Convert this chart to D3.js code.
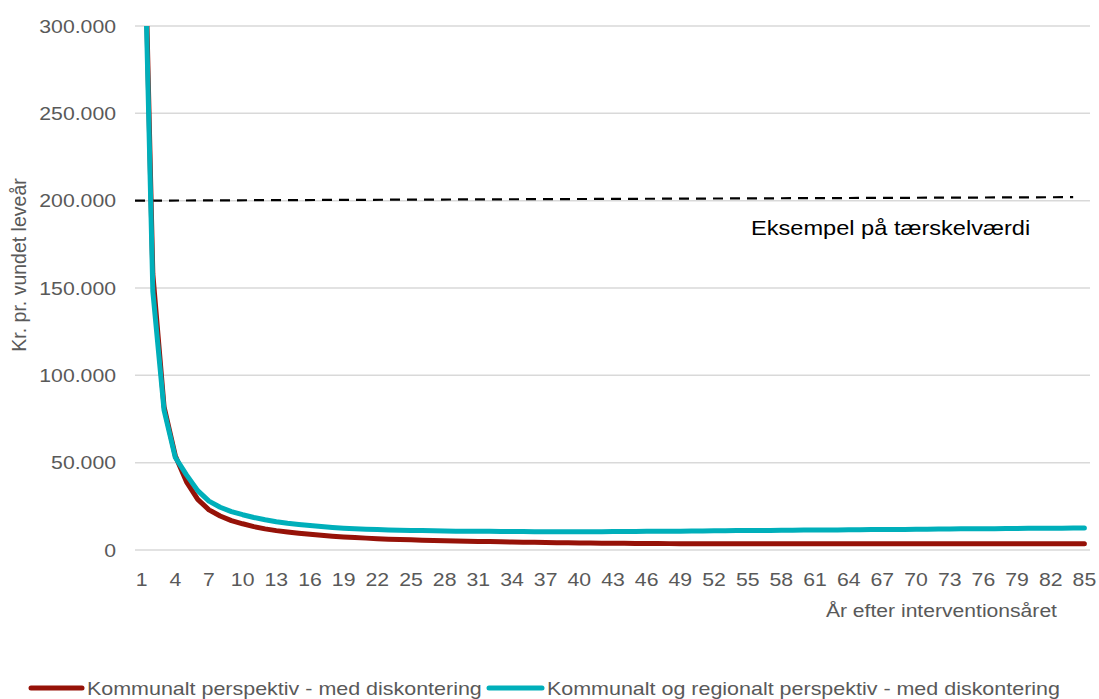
<!DOCTYPE html>
<html>
<head>
<meta charset="utf-8">
<script src="https://cdn.jsdelivr.net/npm/d3@7"></script>
<style>
  html, body { margin: 0; padding: 0; background: #fff; }
  svg { display: block; }
  text { font-family: "Liberation Sans", Arial, sans-serif; fill: #595959; }
</style>
</head>
<body>
<svg id="chart" width="1099" height="699"></svg>
<script>
// ---- data ----
const years = d3.range(1, 86); // År efter interventionsåret: 1..85

const kommunal = [
  430000, 158000, 82000, 54000, 39000, 29000, 23000, 19500, 16800, 15000,
  13400, 12100, 11100, 10300, 9600, 9000, 8400, 7900, 7500, 7100,
  6800, 6500, 6200, 6000, 5800, 5600, 5400, 5300, 5100, 5000,
  4900, 4800, 4700, 4600, 4500, 4400, 4300, 4200, 4100, 4000,
  3950, 3900, 3850, 3800, 3750, 3700, 3700, 3650, 3650, 3600,
  3600, 3600, 3600, 3600, 3600, 3600, 3600, 3600, 3600, 3600,
  3600, 3600, 3600, 3600, 3600, 3600, 3600, 3600, 3600, 3600,
  3600, 3600, 3600, 3600, 3600, 3600, 3600, 3600, 3600, 3600,
  3600, 3600, 3600, 3600, 3600
];

const kommunalRegional = [
  420000, 148000, 80000, 53000, 43000, 34000, 28000, 24500, 22000, 20200,
  18600, 17300, 16200, 15300, 14600, 14000, 13400, 12900, 12500, 12200,
  11900, 11700, 11500, 11300, 11200, 11100, 11000, 10900, 10800, 10800,
  10700, 10700, 10600, 10600, 10600, 10500, 10500, 10500, 10500, 10500,
  10500, 10500, 10600, 10600, 10600, 10700, 10700, 10800, 10800, 10900,
  10900, 11000, 11000, 11100, 11100, 11200, 11200, 11300, 11300, 11400,
  11400, 11500, 11500, 11600, 11600, 11700, 11700, 11800, 11800, 11900,
  11900, 12000, 12000, 12100, 12100, 12200, 12200, 12300, 12300, 12400,
  12400, 12500, 12500, 12600, 12600
];

const thresholdValues = [200000, 202000]; // dashed line: start (plot edge) and end (year 84)
const thresholdEndYear = 84;

const yTicks = [0, 50000, 100000, 150000, 200000, 250000, 300000];
const xTickLabels = years.filter((d, i) => i % 3 === 0);

const seriesNames = [
  "Kommunalt perspektiv - med diskontering",
  "Kommunalt og regionalt perspektiv - med diskontering"
];
const seriesColors = ["#961208", "#00AFBA"];

// ---- layout ----
const svg = d3.select("#chart");
const plot = { left: 136, right: 1090, top: 26, bottom: 550 };
const SX = 1.18; // horizontal text stretch

const x = d3.scaleBand().domain(years).range([plot.left, plot.right]);
const xc = d => x(d) + x.bandwidth() / 2;
const y = d3.scaleLinear().domain([0, 300000]).range([plot.bottom, plot.top]);

const da = d3.formatLocale({ decimal: ",", thousands: ".", grouping: [3], currency: ["", " kr."] });
const fmt = da.format(",");

function stretchedText(g, px, py, str, size, anchor) {
  return g.append("text")
    .attr("transform", `translate(${px},${py}) scale(${SX},1)`)
    .attr("text-anchor", anchor)
    .style("font-size", size + "px")
    .text(str);
}

// gridlines
const grid = svg.append("g");
yTicks.forEach(t => {
  grid.append("line")
    .attr("x1", plot.left - 1).attr("x2", plot.right)
    .attr("y1", y(t)).attr("y2", y(t))
    .attr("stroke", "#D9D9D9").attr("stroke-width", 1.5);
});

// y tick labels
const yAxisG = svg.append("g");
yTicks.forEach(t => {
  stretchedText(yAxisG, 116, y(t) + 6.5, fmt(t), 18, "end");
});

// x tick labels
const xAxisG = svg.append("g");
xTickLabels.forEach(t => {
  stretchedText(xAxisG, xc(t), 585.5, String(t), 18, "middle");
});

// axis titles
stretchedText(svg, 1057, 617, "År efter interventionsåret", 17.9, "end");
svg.append("text")
  .attr("transform", `translate(26,265) rotate(-90)`)
  .attr("text-anchor", "middle")
  .style("font-size", "19.5px")
  .text("Kr. pr. vundet leveår");

// threshold dashed line
svg.append("line")
  .attr("x1", plot.left - 1).attr("x2", xc(thresholdEndYear))
  .attr("y1", y(thresholdValues[0])).attr("y2", y(thresholdValues[1]))
  .attr("stroke", "#000").attr("stroke-width", 2.2)
  .attr("stroke-dasharray", "10,7");
stretchedText(svg, 751, 235, "Eksempel på tærskelværdi", 20, "start").style("fill", "#000");

// clip
svg.append("defs").append("clipPath").attr("id", "clip")
  .append("rect").attr("x", plot.left - 10).attr("y", plot.top)
  .attr("width", plot.right - plot.left + 20).attr("height", plot.bottom - plot.top + 20);

const line = d3.line().x((d, i) => xc(years[i])).y(d => y(d));
const series = [kommunal, kommunalRegional];
const lg = svg.append("g").attr("clip-path", "url(#clip)");
series.forEach((s, i) => {
  lg.append("path").datum(s)
    .attr("d", line)
    .attr("fill", "none")
    .attr("stroke", seriesColors[i])
    .attr("stroke-width", 5)
    .attr("stroke-linejoin", "round")
    .attr("stroke-linecap", "round");
});

// legend
const legendItems = [
  { x0: 31, x1: 82, tx: 87 },
  { x0: 489, x1: 542, tx: 547 }
];
legendItems.forEach((L, i) => {
  svg.append("line")
    .attr("x1", L.x0).attr("x2", L.x1).attr("y1", 688).attr("y2", 688)
    .attr("stroke", seriesColors[i]).attr("stroke-width", 5)
    .attr("stroke-linecap", "round");
  stretchedText(svg, L.tx, 694.5, seriesNames[i], 18.2, "start");
});
</script>
</body>
</html>
